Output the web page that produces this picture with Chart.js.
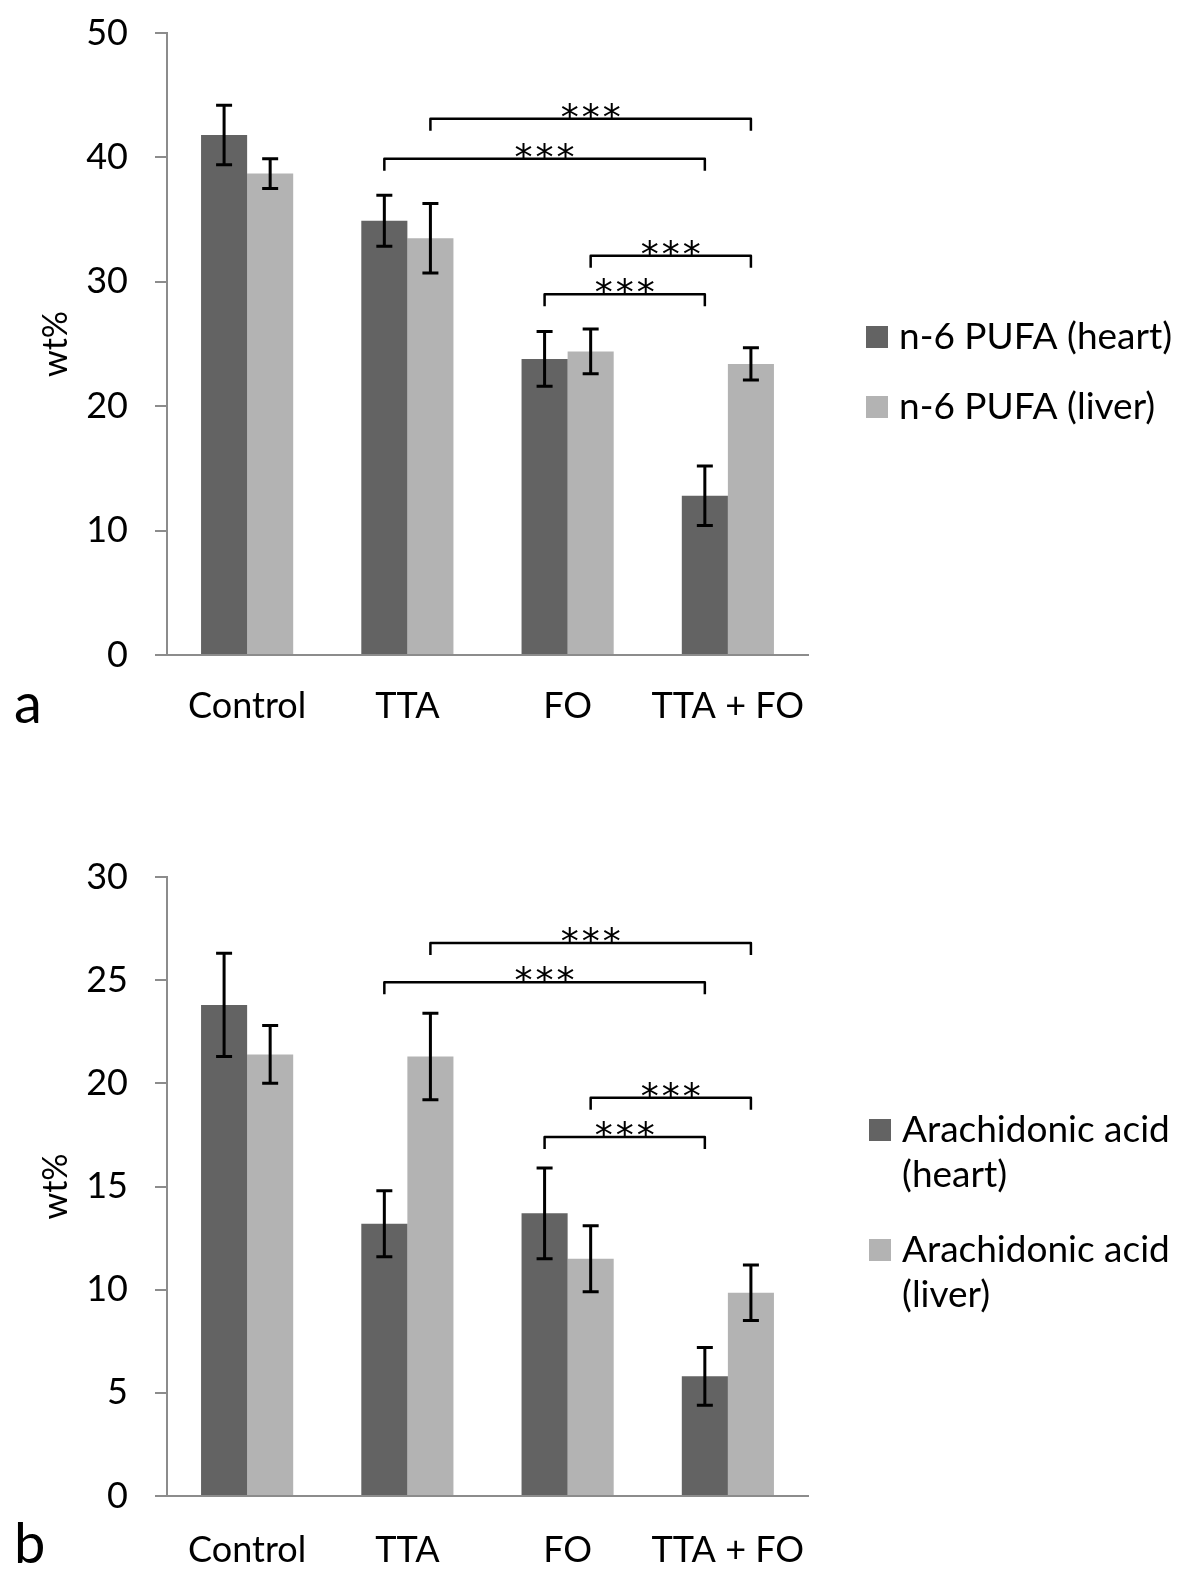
<!DOCTYPE html>
<html>
<head>
<meta charset="utf-8">
<script src="https://cdn.jsdelivr.net/npm/chart.js@4.4.1/dist/chart.umd.min.js"></script>
<style>
  body { margin: 0; background: #fff; width: 1200px; height: 1585px; position: relative; overflow: hidden; }
  canvas { position: absolute; left: 0; }
</style>
</head>
<body>
<canvas id="chartA" width="1200" height="790" style="top:0"></canvas>
<canvas id="chartB" width="1200" height="795" style="top:790px"></canvas>
<script>
// Kategorien
const categories = ['Control', 'TTA', 'FO', 'TTA + FO'];

// Panel a: n-6 PUFA (wt%)
const pufaHeart = [41.8, 34.9, 23.8, 12.8];
const pufaHeartErr = [2.4, 2.05, 2.2, 2.4];
const pufaLiver = [38.7, 33.5, 24.4, 23.4];
const pufaLiverErr = [1.2, 2.8, 1.8, 1.3];
const ticksA = [0, 10, 20, 30, 40, 50];
const legendA = [['n-6 PUFA (heart)'], ['n-6 PUFA (liver)']];

// Panel b: Arachidonsäure (wt%)
const aaHeart = [23.8, 13.2, 13.7, 5.8];
const aaHeartErr = [2.5, 1.6, 2.2, 1.4];
const aaLiver = [21.4, 21.3, 11.5, 9.85];
const aaLiverErr = [1.4, 2.1, 1.6, 1.35];
const ticksB = [0, 5, 10, 15, 20, 25, 30];
const legendB = [['Arachidonic acid', '(heart)'], ['Arachidonic acid', '(liver)']];

// Signifikanz-Klammern: [Kategorie von, Serie von, Kategorie bis, Serie bis, Höhe]
const bracketsA = [[1, 1, 3, 1, 43.1], [1, 0, 3, 0, 39.9], [2, 1, 3, 1, 32.1], [2, 0, 3, 0, 29.0]];
const bracketsB = [[1, 1, 3, 1, 26.8], [1, 0, 3, 0, 24.9], [2, 1, 3, 1, 19.3], [2, 0, 3, 0, 17.4]];

const DARK = '#636363';
const LIGHT = '#b3b3b3';
const AXIS = '#8c8c8c';
const FONT = 'Lato';

// Fehlerbalken, Klammern, Legende und Panel-Buchstabe zeichnen
const extras = {
  id: 'extras',
  afterDatasetsDraw(chart, args, opts) {
    const ctx = chart.ctx;
    const y = chart.scales.y;
    ctx.save();
    ctx.strokeStyle = '#000';
    ctx.lineWidth = 3;
    chart.data.datasets.forEach((ds, i) => {
      chart.getDatasetMeta(i).data.forEach((bar, j) => {
        const e = opts.errors[i][j];
        const top = y.getPixelForValue(ds.data[j] + e);
        const bot = y.getPixelForValue(ds.data[j] - e);
        ctx.beginPath();
        ctx.moveTo(bar.x, top); ctx.lineTo(bar.x, bot);
        ctx.moveTo(bar.x - 8, top); ctx.lineTo(bar.x + 8, top);
        ctx.moveTo(bar.x - 8, bot); ctx.lineTo(bar.x + 8, bot);
        ctx.stroke();
      });
    });

    // Klammern mit ***
    ctx.lineWidth = 2.5;
    ctx.lineJoin = 'round';
    ctx.fillStyle = '#000';
    ctx.font = '36px "DejaVu Sans"';
    ctx.textAlign = 'center';
    ctx.textBaseline = 'alphabetic';
    const star = ctx.measureText('*');
    opts.brackets.forEach(([c1, s1, c2, s2, level]) => {
      const x1 = chart.getDatasetMeta(s1).data[c1].x;
      const x2 = chart.getDatasetMeta(s2).data[c2].x;
      const ly = y.getPixelForValue(level);
      ctx.beginPath();
      ctx.moveTo(x1, ly + 12); ctx.lineTo(x1, ly); ctx.lineTo(x2, ly); ctx.lineTo(x2, ly + 12);
      ctx.stroke();
      const mid = (x1 + x2) / 2;
      const base = ly + 1 - star.actualBoundingBoxDescent;
      [-21, 0, 21].forEach(dx => ctx.fillText('*', mid + dx, base));
    });
    ctx.restore();
  },
  afterDraw(chart, args, opts) {
    const ctx = chart.ctx;
    ctx.save();
    ctx.textAlign = 'left';
    ctx.textBaseline = 'middle';
    ctx.font = opts.legendFont;
    let yy = opts.legendTop;
    opts.legend.forEach((lines, i) => {
      ctx.fillStyle = chart.data.datasets[i].backgroundColor;
      ctx.fillRect(opts.legendX, yy - 11, 22, 22);
      ctx.fillStyle = '#000';
      lines.forEach((t, k) => ctx.fillText(t, opts.legendX + 33, yy + k * opts.lineGap));
      yy += opts.itemGap;
    });
    ctx.textBaseline = 'alphabetic';
    ctx.font = '56px ' + FONT;
    ctx.fillText(opts.letter, 14, opts.letterY);
    ctx.restore();
  }
};

function makeChart(id, heart, liver, errs, ticks, legend, brackets, cfg) {
  const ctx = document.getElementById(id).getContext('2d');
  return new Chart(ctx, {
    type: 'bar',
    data: {
      labels: categories,
      datasets: [
        { label: legend[0].join(' '), data: heart, backgroundColor: DARK, barPercentage: 1, categoryPercentage: 0.575 },
        { label: legend[1].join(' '), data: liver, backgroundColor: LIGHT, barPercentage: 1, categoryPercentage: 0.575 }
      ]
    },
    options: {
      responsive: false,
      animation: false,
      layout: { padding: { top: cfg.top, right: 392, left: 0, bottom: 0 } },
      plugins: {
        legend: { display: false },
        tooltip: { enabled: false },
        extras: {
          errors: errs, brackets: brackets, legend: legend,
          legendX: cfg.legendX, legendTop: cfg.legendTop, itemGap: cfg.itemGap, lineGap: 45,
          legendFont: cfg.legendFont, letter: cfg.letter, letterY: cfg.letterY
        }
      },
      scales: {
        x: {
          grid: { display: false, drawTicks: false },
          border: { display: true, color: AXIS, width: 2 },
          ticks: { color: '#000', font: { family: FONT, size: 36 }, padding: cfg.xPad, maxRotation: 0 },
          afterFit: s => { s.height = cfg.xHeight; }
        },
        y: {
          min: 0,
          max: ticks[ticks.length - 1],
          afterBuildTicks: s => { s.ticks = ticks.map(v => ({ value: v })); },
          grid: { drawOnChartArea: false, drawTicks: true, tickLength: 12, color: AXIS, lineWidth: 2 },
          border: { display: true, color: AXIS, width: 2 },
          ticks: { color: '#000', font: { family: FONT, size: 36 }, padding: 27 },
          title: { display: true, text: 'wt%', color: '#000', font: { family: FONT, size: 34 }, padding: { top: 36, bottom: 0 } },
          afterFit: s => { s.width = 167; s.paddingTop = 0; s.paddingBottom = 0; }
        }
      }
    },
    plugins: [extras]
  });
}

makeChart('chartA', pufaHeart, pufaLiver, [pufaHeartErr, pufaLiverErr], ticksA, legendA, bracketsA, {
  top: 33, xHeight: 135, xPad: 30,
  legendX: 866, legendTop: 337, itemGap: 70, legendFont: '37px ' + FONT,
  letter: 'a', letterY: 723
});

makeChart('chartB', aaHeart, aaLiver, [aaHeartErr, aaLiverErr], ticksB, legendB, bracketsB, {
  top: 87, xHeight: 89, xPad: 33,
  legendX: 869, legendTop: 340, itemGap: 120, legendFont: '37px ' + FONT,
  letter: 'b', letterY: 773
});
</script>
</body>
</html>
